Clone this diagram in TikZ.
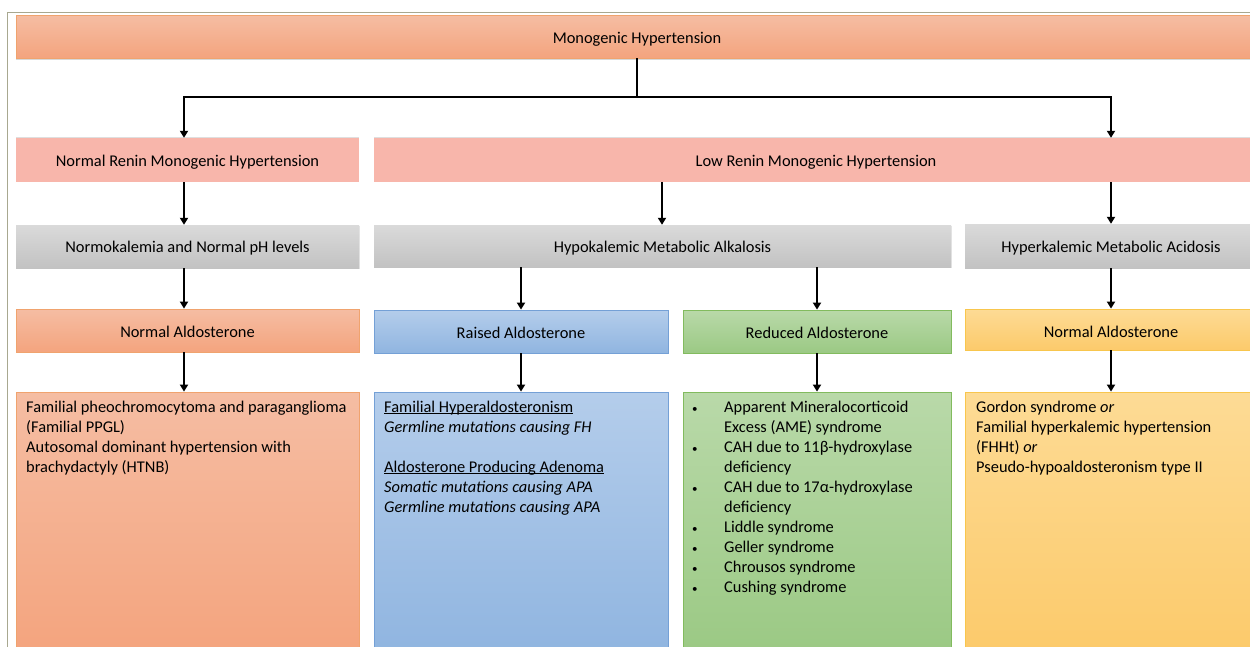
\documentclass[tikz,border=0pt]{standalone}
\usepackage{fontspec}
\setmainfont{Carlito}
\usetikzlibrary{arrows.meta,shadows,fit}
\definecolor{orT}{HTML}{F5BDA3}
\definecolor{orB}{HTML}{F4A47E}
\definecolor{orD}{HTML}{F0A36E}
\definecolor{pk}{HTML}{F8B6AB}
\definecolor{grT}{HTML}{DADADA}
\definecolor{grB}{HTML}{C2C2C2}
\definecolor{blT}{HTML}{B4CDEB}
\definecolor{blB}{HTML}{90B5E0}
\definecolor{blD}{HTML}{74A0D6}
\definecolor{gnT}{HTML}{B9D9A9}
\definecolor{gnB}{HTML}{9BC984}
\definecolor{gnD}{HTML}{82BB5E}
\definecolor{ylT}{HTML}{FDDB95}
\definecolor{ylB}{HTML}{FCCA6B}
\definecolor{ylD}{HTML}{F8C64D}
\definecolor{framec}{HTML}{A8A890}
\newcommand\myul[1]{\leavevmode\setbox0\hbox{#1}\rlap{\rule[-1.6pt]{\wd0}{0.8pt}}\box0}
\newcommand\bul{\makebox[32pt][l]{\raisebox{0.5pt}{\fontsize{11}{11}\selectfont•}}}
\tikzset{
  bx/.style={rectangle, inner sep=0pt, align=center},
  orbox/.style={bx, top color=orT, bottom color=orB, draw=orD, line width=0.8pt},
  pkbox/.style={bx, fill=pk, drop shadow={opacity=0.25, shadow xshift=0pt, shadow yshift=1.5pt}},
  grbox/.style={bx, top color=grT, bottom color=grB, drop shadow={opacity=0.2, shadow xshift=0.5pt, shadow yshift=-1pt}},
  blbox/.style={bx, top color=blT, bottom color=blB, draw=blD, line width=0.8pt},
  gnbox/.style={bx, top color=gnT, bottom color=gnB, draw=gnD, line width=0.8pt},
  ylbox/.style={bx, top color=ylT, bottom color=ylB, draw=ylD, line width=0.8pt},
  lbl/.style={inner sep=0pt},
  body/.style={anchor=north west, align=left, inner sep=0pt, text depth=0pt},
  arr/.style={line width=2pt, -{Triangle[width=8pt,length=7pt]}},
}
\begin{document}
\begin{tikzpicture}[x=1pt,y=-1pt,font=\fontsize{16.4}{20}\selectfont]
\clip (0,0) rectangle (1250,646);
\fill[white] (0,0) rectangle (1250,646);
\draw[framec, line width=1pt] (1252,12) -- (7,12) -- (7,650);

% row 1
\node[orbox, drop shadow={opacity=0.3, shadow xshift=0pt, shadow yshift=-2pt}, fit={(16,15) (1255,58)}] (top) {};
\node[lbl] at (637,39.5) (toptxt) {Monogenic Hypertension};

% row 2
\node[pkbox, fit={(16,138) (359,182)}] (nr) {};
\node[lbl] at (187.5,162.5) (nrtxt) {Normal Renin Monogenic Hypertension};
\node[pkbox, fit={(374,138) (1255,182)}] (lr) {};
\node[lbl] at (816,162.5) (lrtxt) {Low Renin Monogenic Hypertension};

% row 3
\node[grbox, fit={(16,225) (359,268)}] (nk) {};
\node[lbl] at (187.5,248) (nktxt) {Normokalemia and Normal pH levels};
\node[grbox, fit={(374,225) (951,267)}] (hyp) {};
\node[lbl] at (662.5,248) (hyptxt) {Hypokalemic Metabolic Alkalosis};
\node[grbox, fit={(965,224) (1255,268)}] (hk) {};
\node[lbl] at (1111,248) (hktxt) {Hyperkalemic Metabolic Acidosis};

% row 4
\node[orbox, fit={(16,309) (359,352)}] (na) {};
\node[lbl] at (187.5,332) (natxt) {Normal Aldosterone};
\node[blbox, fit={(374,310) (668,353)}] (ra) {};
\node[lbl] at (521,333) (ratxt) {Raised Aldosterone};
\node[gnbox, fit={(683,310) (951,353)}] (rd) {};
\node[lbl] at (817,333) (rdtxt) {Reduced Aldosterone};
\node[ylbox, fit={(965,309) (1255,350)}] (ya) {};
\node[lbl] at (1111,331.5) (yatxt) {Normal Aldosterone};

% row 5
\node[orbox, fit={(16,392) (359,652)}] (b1) {};
\node[blbox, fit={(374,392) (668,652)}] (b2) {};
\node[gnbox, fit={(683,392) (951,652)}] (b3) {};
\node[ylbox, fit={(965,392) (1255,652)}] (b4) {};

\node[body] at (26,401) (t1) {Familial pheochromocytoma and paraganglioma\\(Familial PPGL)\\Autosomal dominant hypertension with\\brachydactyly (HTNB)};
\node[body] at (384,401) (t2) {\myul{Familial Hyperaldosteronism}\\\textit{Germline mutations causing FH}\\[20pt]\myul{Aldosterone Producing Adenoma}\\\textit{Somatic mutations causing APA}\\\textit{Germline mutations causing APA}};
\node[body] at (692,401) (t3) {\bul Apparent Mineralocorticoid\\\hspace*{32pt}Excess (AME) syndrome\\\bul CAH due to 11β-hydroxylase\\\hspace*{32pt}deficiency\\\bul CAH due to 17α-hydroxylase\\\hspace*{32pt}deficiency\\\bul Liddle syndrome\\\bul Geller syndrome\\\bul Chrousos syndrome\\\bul Cushing syndrome};
\node[body] at (976,401) (t4) {Gordon syndrome \textit{or}\\Familial hyperkalemic hypertension\\(FHHt) \textit{or}\\Pseudo-hypoaldosteronism type II};

% connectors
\coordinate (split) at (637,97);
\coordinate (cL) at (184,0);
\coordinate (cM) at (662,0);
\coordinate (cR) at (1111,0);
\coordinate (cA) at (521,0);
\coordinate (cB) at (817,0);
\draw[line width=2pt] (top.south -| split) -- (split);
\draw[arr] (split) -| (nr.north -| cL);
\draw[arr] (split) -| (lr.north -| cR);
\draw[arr] (nr.south -| cL) -- (nk.north -| cL);
\draw[arr] (lr.south -| cM) -- (hyp.north -| cM);
\draw[arr] (lr.south -| cR) -- (hk.north -| cR);
\draw[arr] (nk.south -| cL) -- (na.north -| cL);
\draw[arr] (hyp.south -| cA) -- (ra.north -| cA);
\draw[arr] (hyp.south -| cB) -- (rd.north -| cB);
\draw[arr] (hk.south -| cR) -- (ya.north -| cR);
\draw[arr] (na.south -| cL) -- (b1.north -| cL);
\draw[arr] (ra.south -| cA) -- (b2.north -| cA);
\draw[arr] (rd.south -| cB) -- (b3.north -| cB);
\draw[arr] (ya.south -| cR) -- (b4.north -| cR);
\end{tikzpicture}
\end{document}
